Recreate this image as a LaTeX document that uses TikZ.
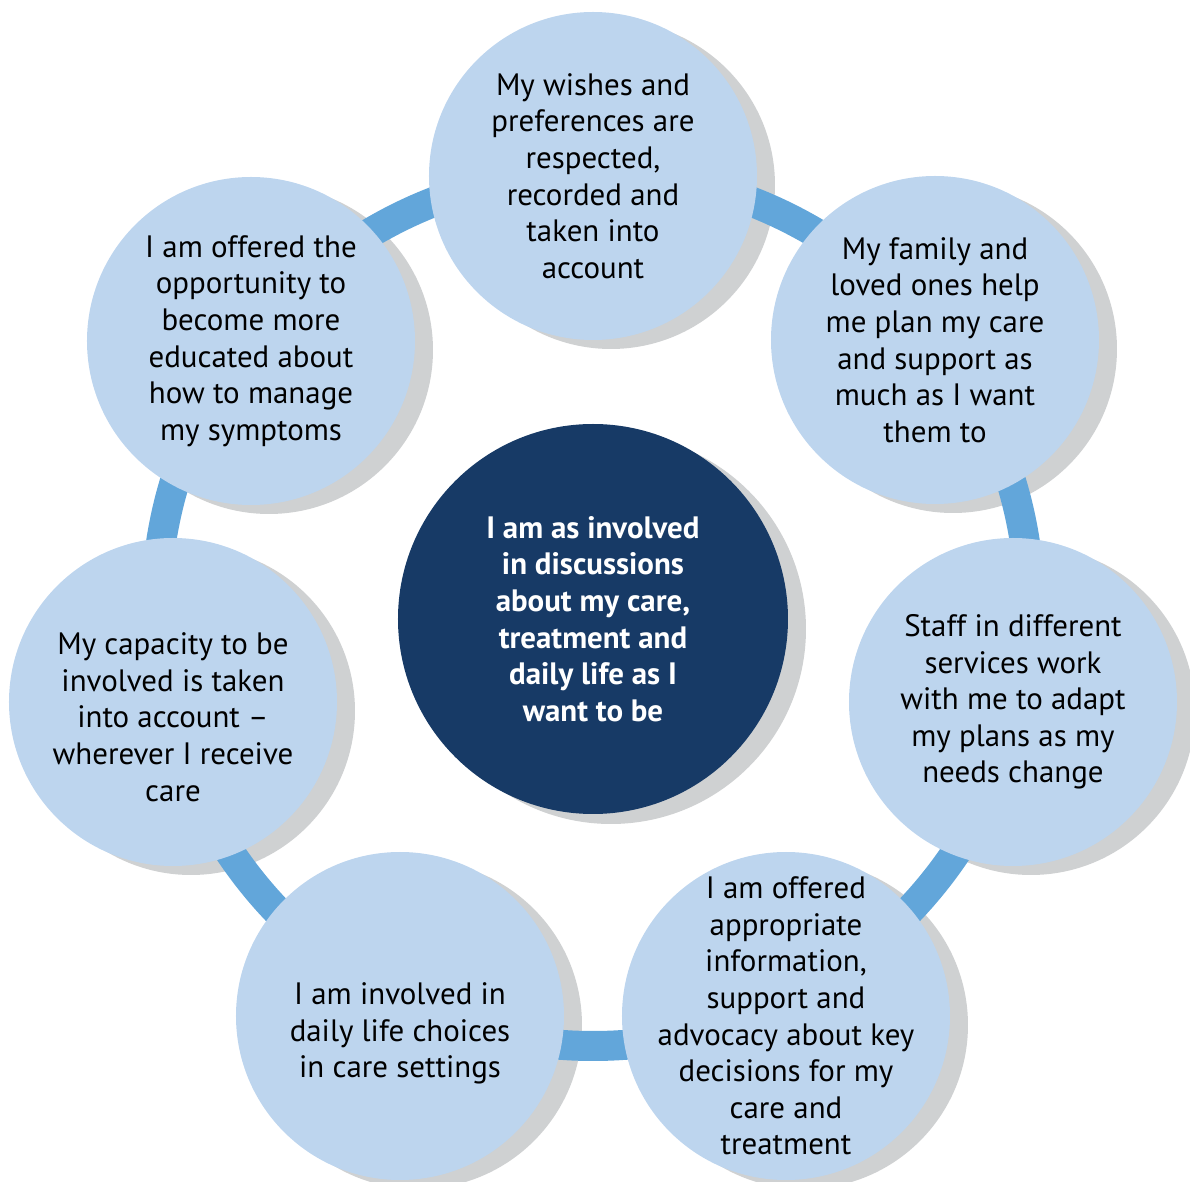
\documentclass[tikz,border=0pt]{standalone}
\usepackage{fontspec}
\setmainfont{PT Sans}
\usetikzlibrary{positioning}
\definecolor{petalblue}{HTML}{BDD5EE}
\definecolor{hubblue}{HTML}{173A66}
\definecolor{ringblue}{HTML}{62A6DA}
\definecolor{shadegray}{HTML}{CFD1D2}
\pgfdeclarelayer{shadows}
\pgfdeclarelayer{ring}
\pgfsetlayers{shadows,ring,main}

\begin{document}
\begin{tikzpicture}[
  petal/.style={circle, fill=petalblue, minimum size=6.56cm, inner sep=-1cm, align=center, text=black, font=\fontsize{17.6}{20.8}\selectfont},
  hub/.style={circle, fill=hubblue, minimum size=7.8cm, inner sep=-1cm, align=center, text=white, font=\fontsize{17.6}{20.8}\selectfont\bfseries}
]
\useasboundingbox (-11.86,-11.26) rectangle (11.94,12.38);
\node[hub] (hub) at (0,0) {I am as involved\\in discussions\\about my care,\\treatment and\\daily life as I\\want to be};
\node[petal, yshift=8.86cm] (wishes) at (hub.center) {My wishes and\\preferences are\\respected,\\recorded and\\taken into\\account};
\node[petal, xshift=6.84cm, yshift=5.58cm] (family) at (hub.center) {My family and\\loved ones help\\me plan my care\\and support as\\much as I want\\them to};
\node[petal, xshift=8.4cm, yshift=-1.66cm] (staff) at (hub.center) {Staff in different\\services work\\with me to adapt\\my plans as my\\needs change};
\node[petal, xshift=3.86cm, yshift=-7.94cm] (advocacy) at (hub.center) {I am offered\\appropriate\\information,\\support and\\advocacy about key\\decisions for my\\care and\\treatment};
% these two sit a little low in their circles
\node[petal, xshift=-3.86cm, yshift=-7.94cm, text height=74pt] (choices) at (hub.center) {I am involved in\\daily life choices\\in care settings};
\node[petal, xshift=-8.4cm, yshift=-1.66cm, text height=113pt] (capacity) at (hub.center) {My capacity to be\\involved is taken\\into account --\\wherever I receive\\care};
\node[petal, xshift=-6.84cm, yshift=5.56cm] (symptoms) at (hub.center) {I am offered the\\opportunity to\\become more\\educated about\\how to manage\\my symptoms};

% ring behind the circles
\begin{pgfonlayer}{ring}
\draw[ringblue, line width=0.6cm] ([yshift=0.2cm]hub.center) circle (8.74);
\end{pgfonlayer}

% grey offset shadows
\begin{pgfonlayer}{shadows}
\fill[shadegray] ([shift={(0.36,-0.2)}]hub.center) circle (3.9);
\foreach \n in {wishes,family,staff,advocacy,choices,capacity,symptoms}
  \fill[shadegray] ([shift={(0.36,-0.18)}]\n.center) circle (3.28);
\end{pgfonlayer}
\end{tikzpicture}
\end{document}
